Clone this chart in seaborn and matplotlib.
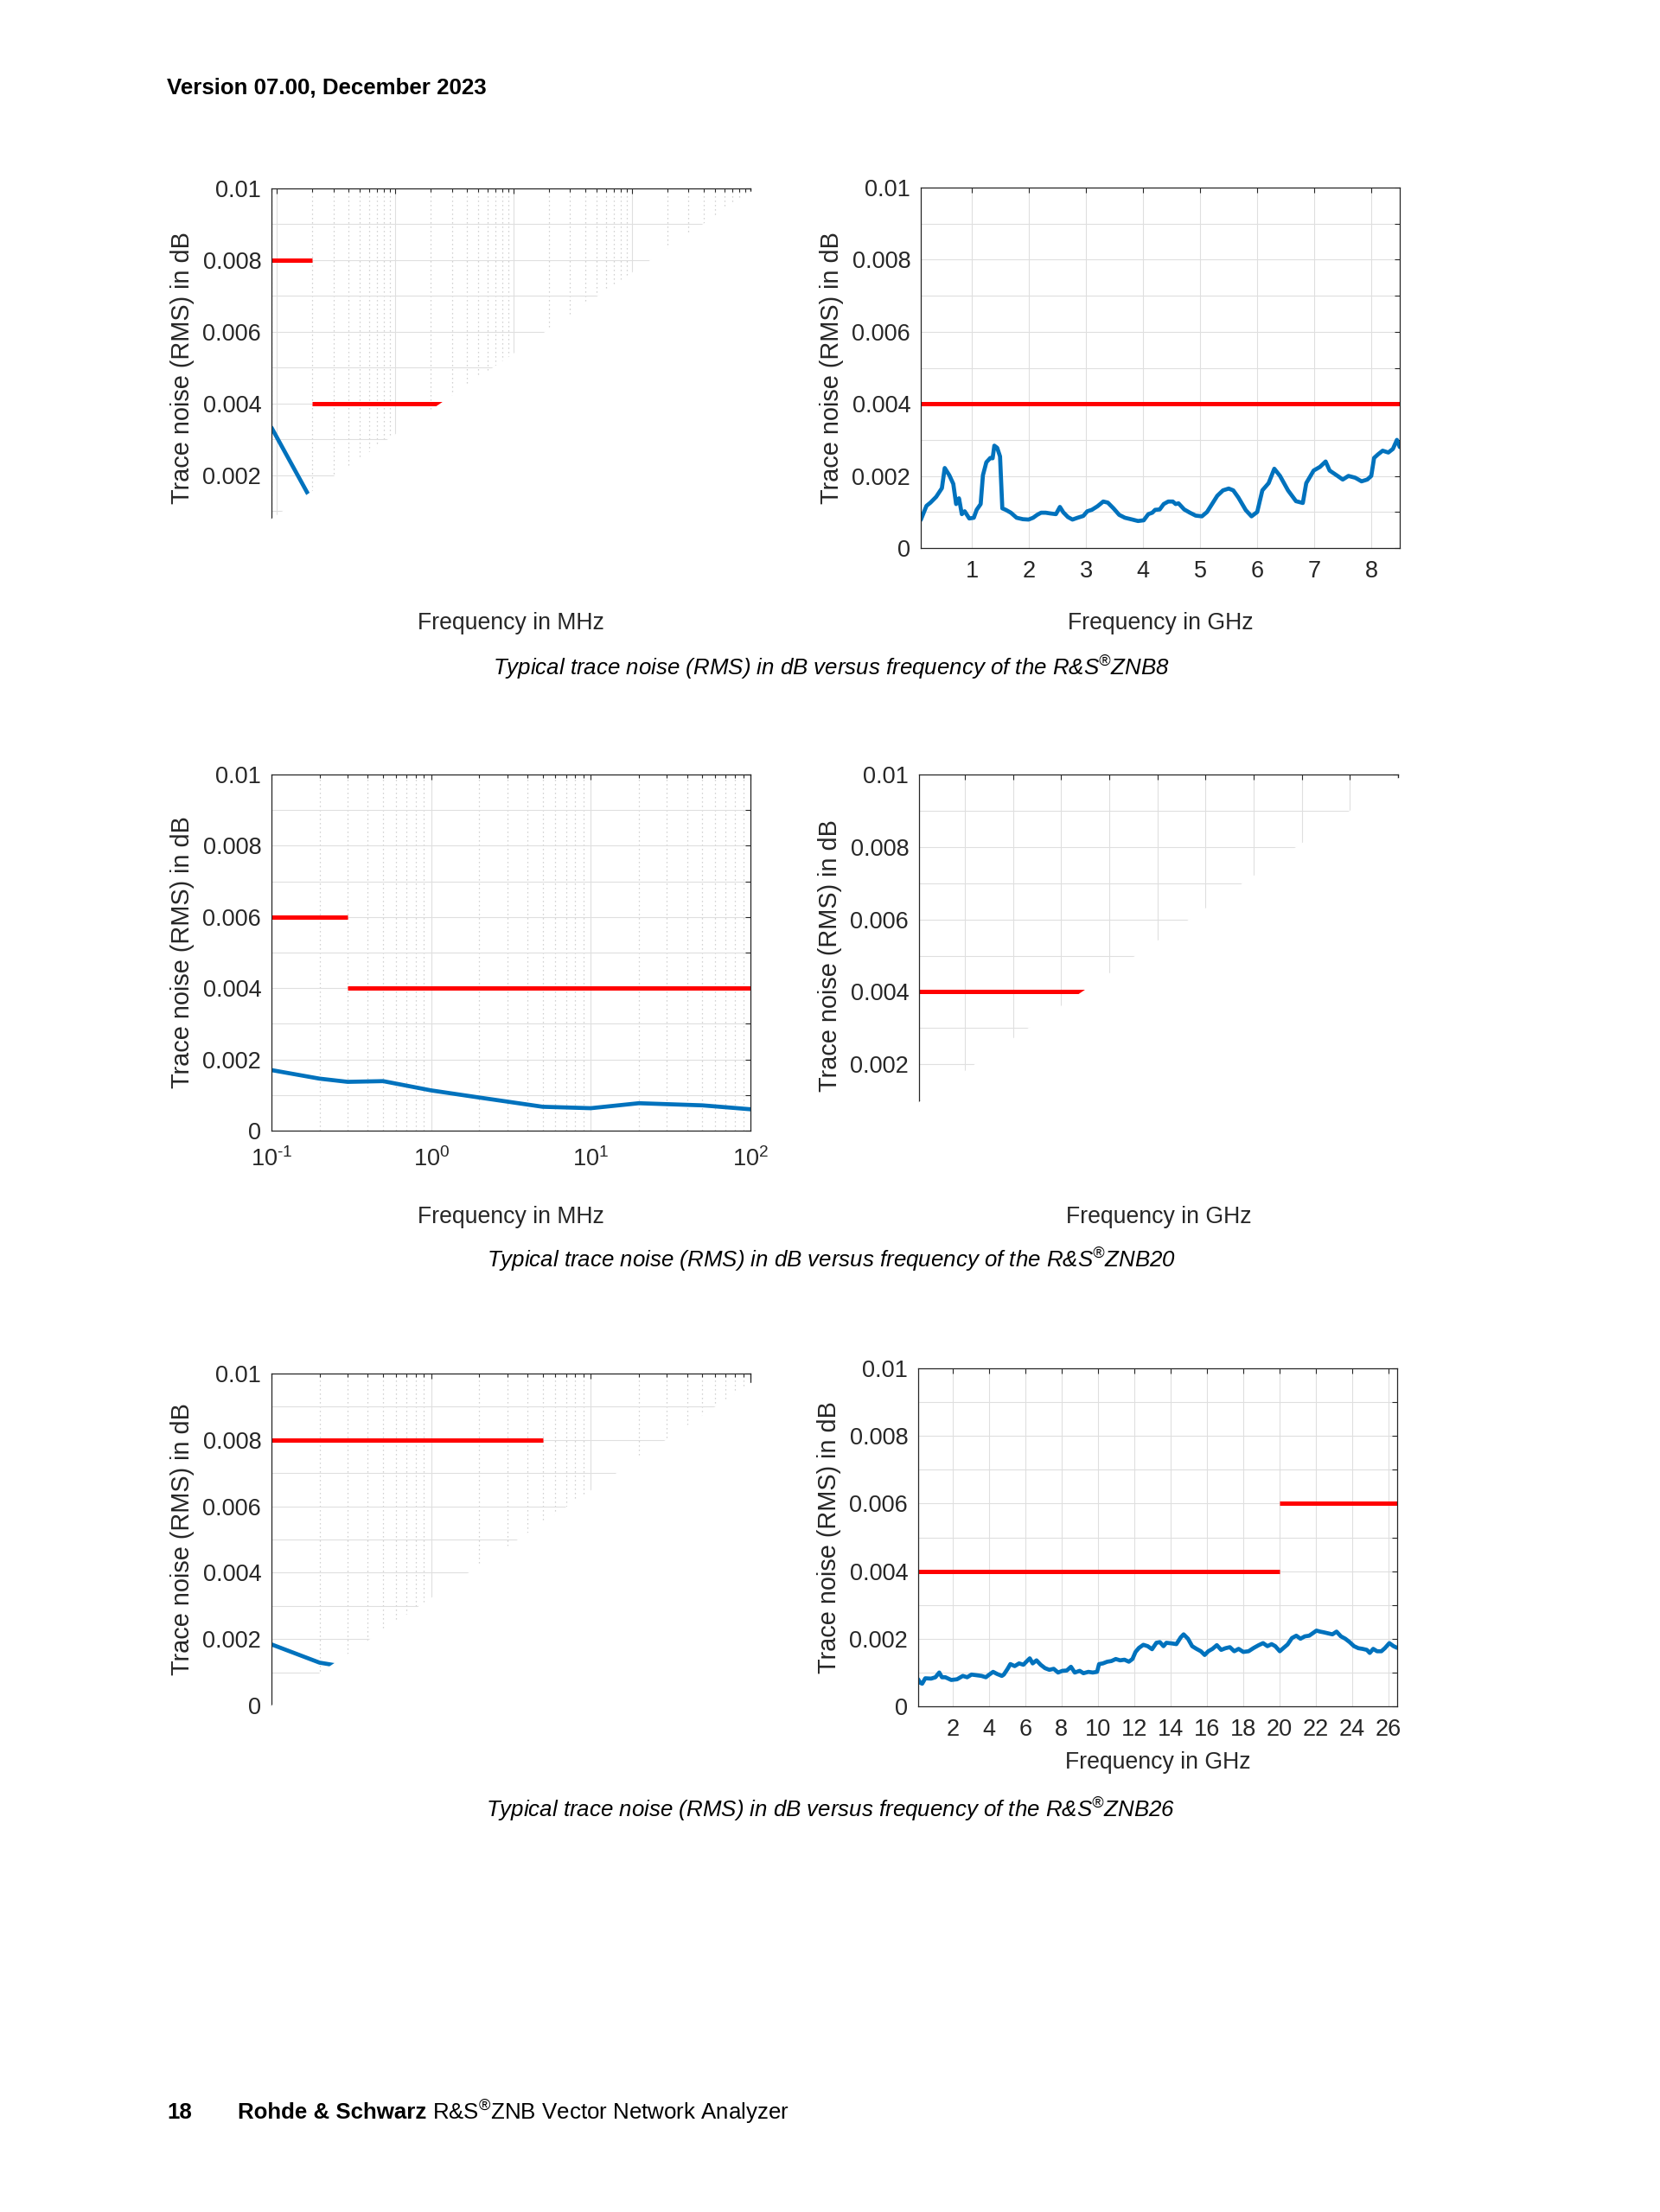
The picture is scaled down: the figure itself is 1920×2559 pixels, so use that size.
import matplotlib
matplotlib.use("Agg")
import matplotlib.pyplot as plt
from matplotlib.patches import Polygon
from matplotlib.ticker import MultipleLocator, FuncFormatter, LogLocator, NullFormatter
import seaborn as sns

# ---------------- data ----------------
# R&S ZNB8, low band (MHz) and high band (GHz)
znb8_lf_freq = [0.009, 0.02]
znb8_lf_noise = [0.00333, 0.00125]
znb8_lf_spec_start = [0.009, 0.02]
znb8_lf_spec_stop = [0.02, 100]
znb8_lf_spec_level = [0.008, 0.004]

znb8_hf_freq = [0.1, 0.2, 0.27, 0.37, 0.47, 0.52, 0.6, 0.67, 0.72, 0.77,
                0.82, 0.87, 0.95, 1.03, 1.08, 1.15, 1.19, 1.25, 1.32, 1.36,
                1.39, 1.44, 1.49, 1.53, 1.59, 1.68, 1.78, 1.89, 1.99, 2.07,
                2.14, 2.21, 2.29, 2.37, 2.47, 2.54, 2.6, 2.68, 2.76, 2.85,
                2.95, 3.02, 3.1, 3.2, 3.3, 3.38, 3.48, 3.58, 3.68, 3.81,
                3.91, 4.01, 4.09, 4.16, 4.21, 4.29, 4.36, 4.44, 4.52, 4.57,
                4.62, 4.72, 4.82, 4.92, 5.03, 5.12, 5.2, 5.3, 5.4, 5.5,
                5.58, 5.67, 5.8, 5.9, 6.0, 6.09, 6.2, 6.3, 6.4, 6.54,
                6.68, 6.8, 6.86, 6.99, 7.1, 7.2, 7.27, 7.41, 7.5, 7.6,
                7.72, 7.83, 7.93, 8.0, 8.05, 8.12, 8.2, 8.3, 8.38, 8.45, 8.5]
znb8_hf_mdb = [0.78, 1.17, 1.26, 1.42, 1.66, 2.22, 2.02, 1.78, 1.22, 1.38,
               0.94, 1.02, 0.82, 0.84, 1.06, 1.22, 2.02, 2.38, 2.5, 2.49,
               2.84, 2.78, 2.54, 1.1, 1.06, 0.98, 0.84, 0.8, 0.79, 0.84,
               0.92, 0.98, 0.98, 0.96, 0.94, 1.14, 0.99, 0.86, 0.79, 0.84,
               0.89, 1.02, 1.06, 1.16, 1.29, 1.26, 1.1, 0.92, 0.84, 0.79,
               0.75, 0.77, 0.94, 0.98, 1.06, 1.07, 1.22, 1.29, 1.29, 1.22,
               1.24, 1.07, 0.98, 0.9, 0.88, 1.0, 1.2, 1.45, 1.6, 1.65,
               1.6, 1.4, 1.05, 0.88, 1.0, 1.6, 1.8, 2.2, 2.0, 1.6,
               1.3, 1.25, 1.8, 2.15, 2.25, 2.4, 2.15, 2.0, 1.9, 2.0,
               1.95, 1.85, 1.9, 2.0, 2.5, 2.6, 2.7, 2.65, 2.75, 3.0, 2.8]
znb8_hf_spec_start = [0.1]
znb8_hf_spec_stop = [8.5]
znb8_hf_spec_level = [0.004]

# R&S ZNB20
znb20_lf_freq = [0.1, 0.2, 0.3, 0.5, 1, 2, 5, 10, 20, 50, 100]
znb20_lf_noise = [0.0017, 0.00146, 0.00137, 0.00139, 0.00113, 0.00093,
                  0.00067, 0.00063, 0.00077, 0.00071, 0.0006]
znb20_lf_spec_start = [0.1, 0.3]
znb20_lf_spec_stop = [0.3, 100]
znb20_lf_spec_level = [0.006, 0.004]

znb20_hf_spec_start = [0.1]
znb20_hf_spec_stop = [20]
znb20_hf_spec_level = [0.004]

# R&S ZNB26
znb26_lf_freq = [0.1, 0.2, 0.3]
znb26_lf_noise = [0.00184, 0.00129, 0.00115]
znb26_lf_spec_start = [0.1]
znb26_lf_spec_stop = [5]
znb26_lf_spec_level = [0.008]

znb26_hf_freq = [0.1, 0.2, 0.32, 0.49, 0.81, 1.05, 1.26, 1.41, 1.6, 1.92,
                 2.24, 2.56, 2.8, 3.04, 3.32, 3.59, 3.83, 4.02, 4.23, 4.44,
                 4.71, 4.82, 5.03, 5.18, 5.42, 5.66, 5.9, 6.06, 6.25, 6.41,
                 6.62, 6.85, 7.09, 7.33, 7.57, 7.81, 8.05, 8.29, 8.52, 8.73,
                 9.0, 9.21, 9.48, 9.72, 9.96, 10.07, 10.28, 10.52, 10.75, 10.99,
                 11.23, 11.47, 11.71, 11.91, 12.08, 12.27, 12.51, 12.75, 12.99, 13.23,
                 13.42, 13.62, 13.78, 14.1, 14.33, 14.57, 14.73, 14.97, 15.2, 15.44,
                 15.68, 15.89, 16.09, 16.32, 16.56, 16.8, 17.04, 17.28, 17.52, 17.76,
                 18.02, 18.31, 18.6, 18.87, 19.11, 19.35, 19.58, 19.78, 20.03, 20.22,
                 20.46, 20.7, 20.94, 21.17, 21.41, 21.65, 21.84, 22.05, 22.26, 22.45,
                 22.69, 22.93, 23.16, 23.4, 23.64, 23.88, 24.12, 24.36, 24.59, 24.83,
                 24.99, 25.18, 25.39, 25.63, 25.82, 26.07, 26.3, 26.5]
znb26_hf_mdb = [0.8, 0.7, 0.67, 0.83, 0.82, 0.86, 1.0, 0.86, 0.86, 0.78,
                0.8, 0.9, 0.86, 0.94, 0.92, 0.9, 0.86, 0.94, 1.02, 0.96,
                0.9, 0.94, 1.11, 1.25, 1.19, 1.27, 1.23, 1.32, 1.42, 1.27,
                1.36, 1.23, 1.13, 1.08, 1.11, 1.0, 1.05, 1.06, 1.17, 1.0,
                1.05, 0.98, 1.02, 1.0, 1.02, 1.25, 1.27, 1.32, 1.34, 1.4,
                1.36, 1.38, 1.32, 1.4, 1.61, 1.73, 1.82, 1.78, 1.69, 1.88,
                1.9, 1.78, 1.88, 1.86, 1.84, 2.04, 2.13, 2.0, 1.78, 1.7,
                1.63, 1.52, 1.63, 1.7, 1.81, 1.67, 1.72, 1.75, 1.63, 1.7,
                1.61, 1.63, 1.73, 1.81, 1.87, 1.78, 1.84, 1.78, 1.63, 1.72,
                1.83, 2.02, 2.09, 2.0, 2.07, 2.09, 2.16, 2.24, 2.21, 2.19,
                2.16, 2.13, 2.21, 2.07, 2.0, 1.9, 1.78, 1.72, 1.7, 1.67,
                1.58, 1.7, 1.63, 1.63, 1.72, 1.87, 1.78, 1.73]
znb26_hf_spec_start = [0.1, 20]
znb26_hf_spec_stop = [20, 26.5]
znb26_hf_spec_level = [0.004, 0.006]

captions = [
    "Typical trace noise (RMS) in dB versus frequency of the R&S$^{®}$ZNB8",
    "Typical trace noise (RMS) in dB versus frequency of the R&S$^{®}$ZNB20",
    "Typical trace noise (RMS) in dB versus frequency of the R&S$^{®}$ZNB26",
]

# ---------------- style ----------------
sns.set_theme(style="white")
plt.rcParams["font.family"] = ["Liberation Sans", "DejaVu Sans"]
plt.rcParams["mathtext.default"] = "regular"
plt.rcParams["axes.edgecolor"] = "#262626"
plt.rcParams["axes.linewidth"] = 0.9

BLUE = "#0072BD"
RED = "#FF0000"
INK = "#262626"
W, H = 1920, 2559

fig = plt.figure(figsize=(W / 100, H / 100), dpi=100)


def px_axes(left, top, right, bottom):
    return fig.add_axes([left / W, 1 - bottom / H, (right - left) / W, (bottom - top) / H])


def y_formatter(cutoff):
    def fmt(v, pos):
        k = int(round(v * 1000))
        if k % 2 or v / 0.01 < cutoff - 1e-6:
            return ""
        return f"{v:g}"
    return FuncFormatter(fmt)


def decade_label(v, pos):
    e = int(round(__import__("math").log10(v)))
    return "10$^{\\mathregular{%s}}$" % (("\u2010%d" % -e) if e < 0 else "%d" % e)


def style_axes(ax, logx, xlim, cutoff=-1.0):
    if logx:
        ax.set_xscale("log")
        ax.xaxis.set_major_locator(LogLocator(base=10))
        ax.xaxis.set_major_formatter(FuncFormatter(decade_label))
        ax.xaxis.set_minor_locator(LogLocator(base=10, subs=range(2, 10)))
        ax.xaxis.set_minor_formatter(NullFormatter())
        ax.grid(True, which="minor", axis="x", color="#c4c4c4",
                linestyle=(0, (1, 3)), linewidth=0.9)
    ax.set_xlim(*xlim)
    ax.set_ylim(0, 0.01)
    ax.yaxis.set_major_locator(MultipleLocator(0.001))
    ax.yaxis.set_major_formatter(y_formatter(cutoff))
    ax.grid(True, which="major", color="#dfdfdf", linewidth=0.8)
    ax.tick_params(which="both", direction="in", top=True, right=True,
                   color=INK, width=0.8, labelsize=19.5, labelcolor=INK)
    ax.tick_params(which="major", length=4.5)
    ax.tick_params(which="minor", length=3)
    ax.tick_params(axis="y", pad=8.5)
    ax.tick_params(axis="x", pad=14 if logx else 10)
    ax.set_ylabel("Trace noise (RMS) in dB", fontsize=20.8, color=INK, va="center")
    ax.yaxis.set_label_coords(-0.186, 0.5)


def set_xlabel(ax, text, y):
    ax.set_xlabel(text, fontsize=19.2, color=INK, va="center")
    ax.xaxis.set_label_coords(0.5, y)


def cut_corner(ax, b, s):
    # the lower right half of these panels is missing in the source page
    ax.tick_params(labelbottom=False)
    ax.add_patch(Polygon([(-0.01, b - 0.01 * s), (1.0, b + s), (1.03, b + s),
                          (1.03, -0.03), (-0.01, -0.03)], closed=True,
                         transform=ax.transAxes, facecolor="white",
                         edgecolor="none", zorder=10, clip_on=False))


def draw(ax, freq=None, noise=None, spec=None):
    if freq is not None:
        sns.lineplot(x=freq, y=noise, ax=ax, color=BLUE, linewidth=3.4,
                     estimator=None, sort=False)
    start, stop, level = spec
    ax.hlines(level, start, stop, colors=RED, linewidth=3.6)


# --- ZNB8 ---
ax = px_axes(314, 217.5, 868, 633)
draw(ax, znb8_lf_freq, znb8_lf_noise,
     (znb8_lf_spec_start, znb8_lf_spec_stop, znb8_lf_spec_level))
style_axes(ax, True, (0.009, 100), cutoff=0.079)
set_xlabel(ax, "Frequency in MHz", -0.212)
cut_corner(ax, 0.079, 0.911)

ax = px_axes(1065, 217, 1619, 634)
draw(ax, znb8_hf_freq, [v / 1000 for v in znb8_hf_mdb],
     (znb8_hf_spec_start, znb8_hf_spec_stop, znb8_hf_spec_level))
style_axes(ax, False, (0.1, 8.5))
ax.xaxis.set_major_locator(MultipleLocator(1))
set_xlabel(ax, "Frequency in GHz", -0.209)

# --- ZNB20 ---
ax = px_axes(314, 896, 868, 1308)
draw(ax, znb20_lf_freq, znb20_lf_noise,
     (znb20_lf_spec_start, znb20_lf_spec_stop, znb20_lf_spec_level))
style_axes(ax, True, (0.1, 100))
set_xlabel(ax, "Frequency in MHz", -0.243)

ax = px_axes(1063, 896, 1617, 1315)
draw(ax, spec=(znb20_hf_spec_start, znb20_hf_spec_stop, znb20_hf_spec_level))
style_axes(ax, False, (0.1, 20), cutoff=0.096)
ax.xaxis.set_major_locator(MultipleLocator(2))
set_xlabel(ax, "Frequency in GHz", -0.222)
cut_corner(ax, 0.096, 0.894)

# --- ZNB26 ---
ax = px_axes(314, 1589, 868, 1973)
draw(ax, znb26_lf_freq, znb26_lf_noise,
     (znb26_lf_spec_start, znb26_lf_spec_stop, znb26_lf_spec_level))
style_axes(ax, True, (0.1, 100), cutoff=0.0)
cut_corner(ax, 0.0, 0.972)

ax = px_axes(1062, 1583, 1616, 1974)
draw(ax, znb26_hf_freq, [v / 1000 for v in znb26_hf_mdb],
     (znb26_hf_spec_start, znb26_hf_spec_stop, znb26_hf_spec_level))
style_axes(ax, False, (0.1, 26.5))
ax.xaxis.set_major_locator(MultipleLocator(2))
set_xlabel(ax, "Frequency in GHz", -0.166)

# ---------------- page text ----------------
fig.text(193 / W, 1 - 102 / H, "Version 07.00, December 2023", fontsize=18.6,
         fontweight="bold", color="black", va="center", ha="left")
for cap, y in zip(captions, [773, 1458, 2094]):
    fig.text(961 / W, 1 - y / H, cap, fontsize=18.6, fontstyle="italic",
             color="black", va="center", ha="center")

fig.text(193 / W, 1 - 2444 / H, "18", fontsize=18.6, fontweight="bold",
         color="black", va="center", ha="left")
brand = fig.text(275 / W, 1 - 2444 / H, "Rohde & Schwarz", fontsize=18.6,
                 fontweight="bold", color="black", va="center", ha="left")
renderer = fig.canvas.get_renderer()
bb = brand.get_window_extent(renderer=renderer)
fig.text((bb.x1 + 7) / W, 1 - 2444 / H, "R&S$^{®}$ZNB Vector Network Analyzer",
         fontsize=18.6, color="black", va="center", ha="left")

fig.savefig("out.png", dpi=100, facecolor="white")
